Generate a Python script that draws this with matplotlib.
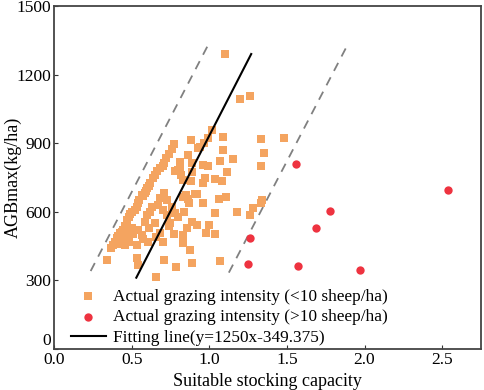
import numpy as np
import matplotlib
matplotlib.use("Agg")
import matplotlib.pyplot as plt

plt.rcParams['font.family'] = ['Liberation Serif', 'DejaVu Serif']

# actual grazing intensity < 10 sheep/ha (squares)
low_x = [1.10, 1.20, 1.26,
         1.02, 0.88, 1.09, 1.33, 1.48, 0.99, 0.93, 0.965, 0.94,
         0.77, 0.76, 0.74, 0.72, 0.71, 0.70, 0.68, 0.665, 0.65, 0.64, 0.62, 0.61,
         0.60, 0.59, 0.585, 0.575, 0.564, 0.55, 0.54, 0.532, 0.52, 0.50, 0.49,
         0.485, 0.47, 0.468, 0.455, 0.446, 0.44, 0.425, 0.415, 0.403, 0.39, 0.382,
         0.37, 0.47, 0.49, 0.50, 0.51, 0.45, 0.43, 0.46, 0.48,
         1.09, 1.35, 0.86, 1.15, 1.07, 0.81, 0.89, 0.96, 0.99, 1.33, 0.79, 0.81,
         0.89, 1.115, 0.80, 0.78, 0.83, 1.04, 1.085, 0.96, 0.82, 0.97, 0.88, 0.71,
         0.91, 0.83, 1.34, 1.11, 1.06, 0.68, 0.86, 0.73, 0.67, 0.92, 0.85, 0.96,
         0.87, 1.33, 1.28, 1.26, 1.18, 1.04, 0.725, 0.78, 0.84, 0.80, 0.586, 0.65,
         0.746, 0.886, 0.92, 1.00, 0.854, 0.54, 0.564, 0.68, 0.77, 0.83, 0.98,
         1.04, 0.607, 0.532, 0.70, 0.83, 0.875, 0.34, 0.532, 0.542, 0.71, 0.785,
         0.89, 1.07, 0.66, 0.60, 0.62, 0.63, 0.70, 0.76, 0.74, 0.61, 0.66, 0.57]
low_y = [1290, 1095, 1108,
         958, 915, 928, 917, 924, 923, 880, 902, 885,
         896, 875, 853, 834, 815, 800, 790, 778, 760, 746, 725, 712,
         703, 690, 681, 670, 673, 650, 640, 622, 610, 600, 590,
         579, 565, 557, 540, 520, 510, 506, 495, 484, 470, 455,
         440, 500, 515, 530, 505, 475, 460, 455, 470,
         870, 856, 848, 829, 822, 819, 812, 803, 802, 800, 778, 786,
         775, 773, 783, 780, 739, 742, 736, 727, 760, 747, 735, 683,
         678, 666, 652, 666, 656, 659, 655, 652, 630, 678, 673, 637,
         640, 640, 615, 586, 599, 593, 586, 593, 598, 579, 557, 550,
         550, 557, 542, 542, 528, 520, 499, 506, 503, 499, 506,
         503, 469, 455, 469, 462, 433, 389, 397, 367, 389, 357,
         375, 385, 314, 585, 600, 620, 610, 620, 540, 530, 490, 480]

# actual grazing intensity > 10 sheep/ha (circles)
high_x = [1.56, 2.54, 1.78, 1.69, 1.26, 1.25, 1.57, 1.97]
high_y = [810, 695, 603, 531, 485, 370, 363, 344]

# fitting line and dashed bounds (end points)
fit_x = [0.53, 1.27]
fit_y = [312, 1290]
lower_x = [0.236, 0.989]
lower_y = [341, 1325]
upper_x = [1.126, 1.879]
upper_y = [334, 1315]

fig = plt.figure(figsize=(4.84, 3.90), dpi=100)
ax = fig.add_axes([0.1116, 0.1051, 0.8822, 0.8795])

ax.plot(lower_x, lower_y, color='#808080', lw=1.3, dashes=(5, 4))
ax.plot(upper_x, upper_y, color='#808080', lw=1.3, dashes=(5, 4))
ax.scatter(low_x, low_y, marker='s', s=28, color='#F4A460', lw=0,
           label='Actual grazing intensity (<10 sheep/ha)', zorder=3)
ax.scatter(high_x, high_y, marker='o', s=36, color='#EE3340', lw=0,
           label='Actual grazing intensity (>10 sheep/ha)', zorder=3)
ax.plot(fit_x, fit_y, color='black', lw=1.5,
        label='Fitting line(y=1250x-349.375)', zorder=4)

ax.set_xlim(0, 2.75)
ax.set_ylim(0, 1500)
ax.set_xticks([0, 0.5, 1.0, 1.5, 2.0, 2.5])
ax.set_xticklabels(['0.0', '0.5', '1.0', '1.5', '2.0', '2.5'])
ax.set_yticks([0, 300, 600, 900, 1200, 1500])
ax.tick_params(direction='in', length=3, labelsize=12.5, pad=2, color='#333333')
ax.get_yticklabels()[0].set_va('bottom')
for sp in ax.spines.values():
    sp.set_color('#444444')
    sp.set_linewidth(1.3)

ax.set_xlabel('Suitable stocking capacity', fontsize=13, labelpad=4)
ax.set_ylabel('AGBmax(kg/ha)', fontsize=13)
ax.yaxis.set_label_coords(-0.075, 0.5)

ax.legend(loc='lower left', frameon=False, fontsize=12.4, handlelength=2.0,
          handletextpad=0.45, borderaxespad=0.1, labelspacing=0.25,
          bbox_to_anchor=(0.02, -0.015))

fig.savefig('out.png', dpi=100)
